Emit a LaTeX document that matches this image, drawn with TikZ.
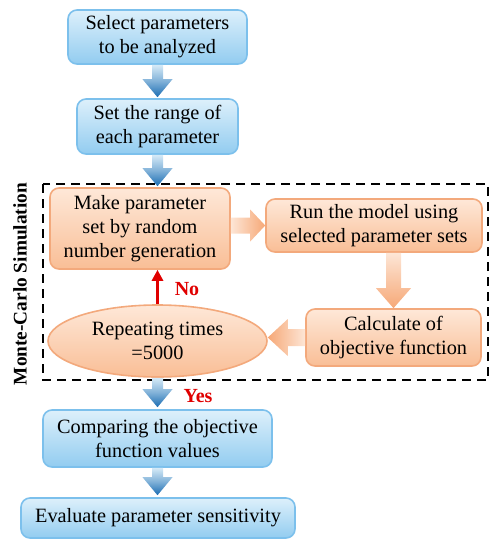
\documentclass[tikz,border=0pt]{standalone}
\usepackage{fontspec}
\setmainfont{Liberation Serif}
\usetikzlibrary{shapes.geometric,calc,arrows.meta}
\definecolor{bluetop}{HTML}{DDF0FB}
\definecolor{bluebot}{HTML}{92CCF0}
\definecolor{blueedge}{HTML}{7CC0EC}
\definecolor{orgtop}{HTML}{FEE8D8}
\definecolor{orgbot}{HTML}{F9BE96}
\definecolor{orgedge}{HTML}{F3A97C}
\definecolor{arrdark}{HTML}{1A6CB2}
\definecolor{arrlight}{HTML}{D5EAF7}
\definecolor{oarrlight}{HTML}{FDE6D6}
\definecolor{oarrdark}{HTML}{F6A877}
\definecolor{redarr}{HTML}{E00000}
\tikzset{
  txt/.style={font=\fontsize{20.3}{24}\selectfont, align=center, inner sep=0pt},
  bluebox/.style={txt, rounded corners=9pt, draw=blueedge, line width=1.6pt,
    top color=bluetop, bottom color=bluebot},
  orgbox/.style={txt, rounded corners=9pt, draw=orgedge, line width=1.6pt,
    top color=orgtop, bottom color=orgbot},
  orgell/.style={txt, ellipse, draw=orgedge, line width=1.6pt,
    top color=orgtop, bottom color=orgbot},
  lbl/.style={font=\fontsize{20}{22}\selectfont\bfseries, text=redarr, inner sep=0pt},
}
% vertical blue fat arrow from #1 to #2
\newcommand\bluedown[2]{%
  \shade[top color=arrlight, bottom color=arrdark, middle color=arrlight!55!arrdark]
    let \p1=(#1), \p2=(#2) in
    (\x1-5.5pt,\y1) -- (\x1+5.5pt,\y1) -- (\x1+5.5pt,\y2+18pt) -- (\x1+15pt,\y2+18pt)
    -- (\x1,\y2) -- (\x1-15pt,\y2+18pt) -- (\x1-5.5pt,\y2+18pt) -- cycle;}
\begin{document}
\begin{tikzpicture}[x=1pt,y=-1pt]
\useasboundingbox (0,0) rectangle (504,550);
% dashed frame
\draw[line width=1.8pt, dash pattern=on 9pt off 6pt] (43,184) rectangle (488,380);
\node[rotate=90, font=\fontsize{19.3}{21}\selectfont\bfseries, inner sep=0pt] (mc) at (20,284) {Monte-Carlo Simulation};
% nodes
\node[bluebox, minimum width=179pt, minimum height=54pt] (b1) at (157.5,37) {Select parameters\\to be analyzed};
\node[bluebox, minimum width=161pt, minimum height=55pt] (b2) at (157.5,126.5) {Set the range of\\each parameter};
\node[orgbox, minimum width=180pt, minimum height=81pt] (mk) at (140,228.5) {Make parameter\\set by random\\number generation};
\node[orgbox, minimum width=216pt, minimum height=53pt] (run) at (374,225.5) {Run the model using\\selected parameter sets};
\node[orgbox, minimum width=175pt, minimum height=57pt] (calc) at (393.5,337.5) {Calculate of\\objective function};
\node[orgell, minimum width=219pt, minimum height=72pt] (rep) at (157.5,341) {Repeating times\\=5000};
\node[bluebox, minimum width=229pt, minimum height=57pt] (cmp) at (157.5,438.5) {Comparing the objective\\function values};
\node[bluebox, minimum width=274pt, minimum height=40pt] (ev) at (158,518) {Evaluate parameter sensitivity};
% blue arrows
\bluedown{b1.south}{$(b2.north)+(0,-1)$}
\bluedown{b2.south}{$(b2.south|-mk.north)+(0,-1)$}
\bluedown{rep.south}{$(cmp.north)+(0,-2)$}
\bluedown{cmp.south}{$(ev.north)+(0,-2)$}
% orange arrows
\shade[left color=oarrlight, right color=oarrdark]
  let \p1=(mk.east), \p2=(run.west) in
  (\x1,\y2+8pt) -- (\x2-15pt,\y2+8pt) -- (\x2-15pt,\y2+16pt) -- (\x2,\y2)
  -- (\x2-15pt,\y2-16pt) -- (\x2-15pt,\y2-8pt) -- (\x1,\y2-8pt) -- cycle;
\shade[top color=oarrlight, bottom color=oarrdark]
  let \p1=(run.south), \p2=(calc.north) in
  (\x2-7.5pt,\y1) -- (\x2+7.5pt,\y1) -- (\x2+7.5pt,\y2+20pt) -- (\x2+17.5pt,\y2+20pt)
  -- (\x2,\y2) -- (\x2-17.5pt,\y2+20pt) -- (\x2-7.5pt,\y2+20pt) -- cycle;
\shade[right color=oarrlight, left color=oarrdark]
  let \p1=(calc.west), \p2=(rep.east) in
  (\x1,\y1+8.5pt) -- (\x2+20pt,\y1+8.5pt) -- (\x2+20pt,\y1+18.5pt) -- (\x2,\y1)
  -- (\x2+20pt,\y1-18.5pt) -- (\x2+20pt,\y1-8.5pt) -- (\x1,\y1-8.5pt) -- cycle;
% red feedback arrow
\draw[redarr, line width=3pt, -{Triangle[length=11pt,width=11pt]}] (rep.north) -- (rep.north|-mk.south);
\node[lbl] (no) at (187,289) {No};
\node[lbl] (yes) at (198,396) {Yes};
\end{tikzpicture}
\end{document}
